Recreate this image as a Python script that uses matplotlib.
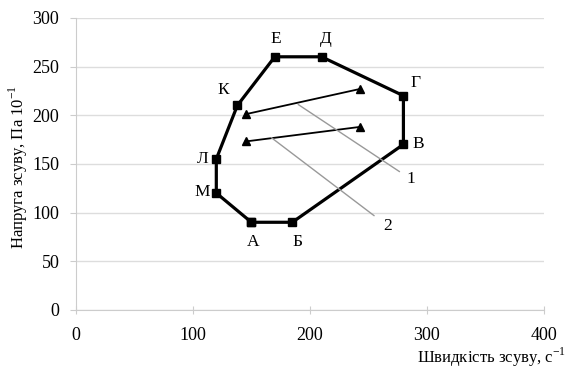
import numpy as np
import matplotlib.pyplot as plt

plt.rcParams['font.family'] = ['Liberation Serif', 'DejaVu Serif']
plt.rcParams['mathtext.fontset'] = 'custom'
plt.rcParams['mathtext.rm'] = 'Liberation Serif'

# контур (замкнений)
tochky = ['А', 'Б', 'В', 'Г', 'Д', 'Е', 'К', 'Л', 'М']
x_kontur = [150, 185, 280, 280, 210, 170, 138, 120, 120]
y_kontur = [90, 90, 170, 220, 260, 260, 210, 155, 120]

# лінії з трикутниками
x_1 = [145, 243]
y_1 = [201, 227]
x_2 = [145, 243]
y_2 = [173, 188]

fig = plt.figure(figsize=(5.67, 3.72), dpi=100)
ax = fig.add_axes([0.134, 0.167, 0.825, 0.785])

ax.plot(x_kontur + x_kontur[:1], y_kontur + y_kontur[:1], color='black',
        lw=2.3, marker='s', ms=5.5, zorder=3)
ax.plot(x_1, y_1, color='black', lw=1.3, marker='^', ms=6, zorder=3)
ax.plot(x_2, y_2, color='black', lw=1.3, marker='^', ms=6, zorder=3)

# підписи точок
zsuv = {'А': (1, -14), 'Б': (4, -14), 'В': (11, 0), 'Г': (9, 9),
        'Д': (3, 13), 'Е': (1, 13), 'К': (-10, 11), 'Л': (-10, 0),
        'М': (-10, 1)}
for t, x, y in zip(tochky, x_kontur, y_kontur):
    dx, dy = zsuv[t]
    ax.annotate(t, (x, y), xytext=(dx, dy), textcoords='offset points',
                ha='center', va='center', fontsize=12.5)

# виноски
ax.annotate('1', xy=(190, 211), xytext=(283, 134), fontsize=12.5,
            ha='left', va='center',
            arrowprops=dict(arrowstyle='-', color='#999999', lw=1,
                            shrinkA=4, shrinkB=0))
ax.annotate('2', xy=(167, 177), xytext=(263, 86), fontsize=12.5,
            ha='left', va='center',
            arrowprops=dict(arrowstyle='-', color='#999999', lw=1,
                            shrinkA=6, shrinkB=0))

ax.set_xlim(0, 400)
ax.set_ylim(0, 300)
ax.set_xticks(np.arange(0, 401, 100))
ax.set_yticks(np.arange(0, 301, 50))
ax.yaxis.grid(True, color='#dddddd', lw=1)
ax.set_axisbelow(True)
for s in ['top', 'right']:
    ax.spines[s].set_visible(False)
for s in ['left', 'bottom']:
    ax.spines[s].set_color('#cccccc')
ax.tick_params(axis='x', direction='inout', length=6, color='#cccccc',
               labelsize=13, pad=9)
ax.tick_params(axis='y', direction='out', length=4, color='#cccccc',
               labelsize=13, pad=8)

fig.text(0.032, 0.55, 'Напруга зсуву, Па 10$^{-1}$', rotation=90,
         ha='center', va='center', fontsize=12)
fig.text(0.998, 0.04, 'Швидкість зсуву, с$^{-1}$', ha='right',
         va='center', fontsize=12)

plt.savefig('out.png', dpi=100)
